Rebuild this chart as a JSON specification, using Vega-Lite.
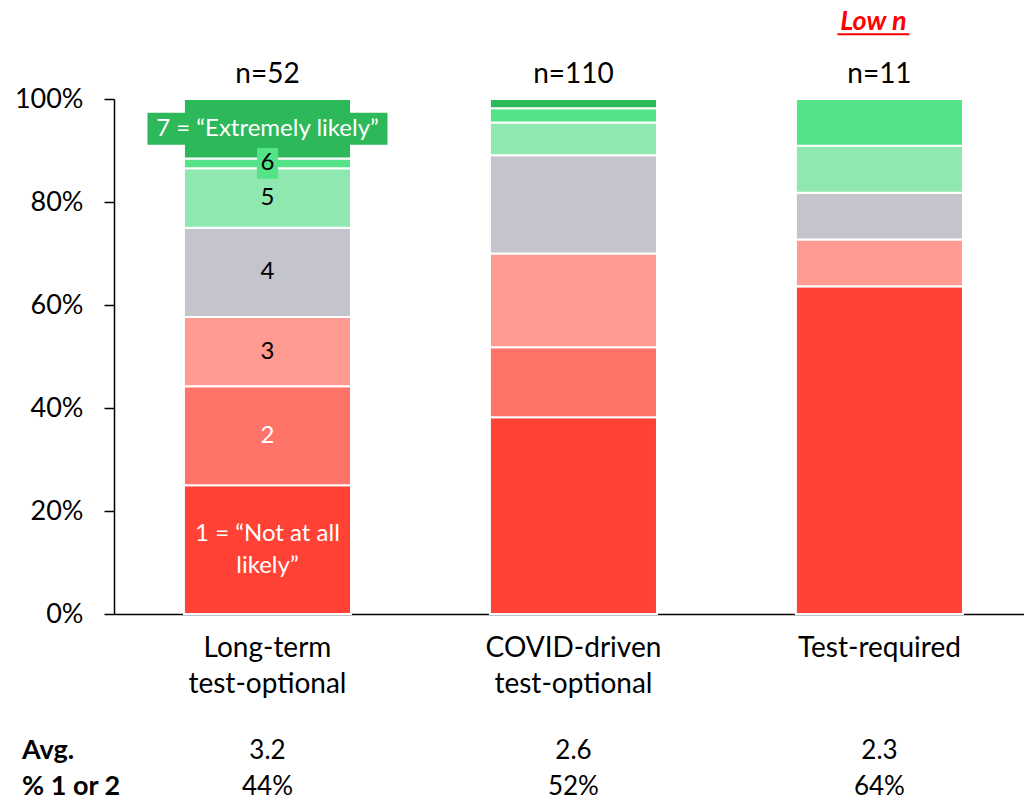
{
  "$schema": "https://vega.github.io/schema/vega-lite/v6.json",
  "width": 910,
  "height": 515,
  "autosize": {"type": "none"},
  "padding": {"left": 114, "top": 99, "right": 0, "bottom": 189},
  "background": "white",
  "config": {
    "view": {"stroke": null},
    "font": "Lato",
    "text": {"font": "Lato"}
  },
  "datasets": {
    "segments": [
      {"group": "Long-term|test-optional", "rating": 1, "pct": 0.25, "label": "1 = “Not at all\nlikely”"},
      {"group": "Long-term|test-optional", "rating": 2, "pct": 0.1923, "label": "2"},
      {"group": "Long-term|test-optional", "rating": 3, "pct": 0.1346, "label": "3"},
      {"group": "Long-term|test-optional", "rating": 4, "pct": 0.1731, "label": "4"},
      {"group": "Long-term|test-optional", "rating": 5, "pct": 0.1154, "label": "5"},
      {"group": "Long-term|test-optional", "rating": 6, "pct": 0.0192, "label": "6"},
      {"group": "Long-term|test-optional", "rating": 7, "pct": 0.1154, "label": "7 = “Extremely likely”"},
      {"group": "COVID-driven|test-optional", "rating": 1, "pct": 0.3818, "label": ""},
      {"group": "COVID-driven|test-optional", "rating": 2, "pct": 0.1364, "label": ""},
      {"group": "COVID-driven|test-optional", "rating": 3, "pct": 0.1818, "label": ""},
      {"group": "COVID-driven|test-optional", "rating": 4, "pct": 0.1909, "label": ""},
      {"group": "COVID-driven|test-optional", "rating": 5, "pct": 0.0636, "label": ""},
      {"group": "COVID-driven|test-optional", "rating": 6, "pct": 0.0273, "label": ""},
      {"group": "COVID-driven|test-optional", "rating": 7, "pct": 0.0182, "label": ""},
      {"group": "Test-required", "rating": 1, "pct": 0.6364, "label": ""},
      {"group": "Test-required", "rating": 2, "pct": 0.0, "label": ""},
      {"group": "Test-required", "rating": 3, "pct": 0.0909, "label": ""},
      {"group": "Test-required", "rating": 4, "pct": 0.0909, "label": ""},
      {"group": "Test-required", "rating": 5, "pct": 0.0909, "label": ""},
      {"group": "Test-required", "rating": 6, "pct": 0.0909, "label": ""},
      {"group": "Test-required", "rating": 7, "pct": 0.0, "label": ""}
    ],
    "groups": [
      {"group": "Long-term|test-optional", "n": "n=52", "avg": "3.2", "pct12": "44%", "note": ""},
      {"group": "COVID-driven|test-optional", "n": "n=110", "avg": "2.6", "pct12": "52%", "note": ""},
      {"group": "Test-required", "n": "n=11", "avg": "2.3", "pct12": "64%", "note": "Low n"}
    ],
    "rowlabels": [
      {"group": "Long-term|test-optional", "row": "Avg.", "pos": "avg"},
      {"group": "Long-term|test-optional", "row": "% 1 or 2", "pos": "pct"}
    ]
  },
  "encoding": {
    "x": {
      "field": "group",
      "type": "nominal",
      "sort": ["Long-term|test-optional", "COVID-driven|test-optional", "Test-required"],
      "scale": {"paddingInner": 0.454, "paddingOuter": 0.214, "align": 0.534},
      "axis": {
        "title": null,
        "labelAngle": 0,
        "ticks": false,
        "labelPadding": 20,
        "labelFontSize": 28,
        "labelLineHeight": 36,
        "labelColor": "black",
        "labelFont": "Lato",
        "domainColor": "black",
        "domainWidth": 1.5,
        "labelExpr": "split(datum.label, '|')"
      }
    }
  },
  "layer": [
    {
      "data": {"name": "segments"},
      "transform": [
        {"stack": "pct", "groupby": ["group"], "sort": [{"field": "rating", "order": "ascending"}], "as": ["y0", "y1"]}
      ],
      "mark": {"type": "bar", "stroke": "white", "strokeWidth": 2},
      "encoding": {
        "y": {
          "field": "y0",
          "type": "quantitative",
          "scale": {"domain": [0, 1], "nice": false},
          "axis": {
            "title": null,
            "values": [0, 0.2, 0.4, 0.6, 0.8, 1],
            "format": "%",
            "grid": false,
            "tickSize": 10,
            "tickColor": "black",
            "tickWidth": 1.5,
            "domainColor": "black",
            "domainWidth": 1.5,
            "labelFontSize": 27,
            "labelColor": "black",
            "labelFont": "Lato",
            "labelPadding": 21
          }
        },
        "y2": {"field": "y1"},
        "color": {
          "field": "rating",
          "type": "ordinal",
          "scale": {"domain": [1, 2, 3, 4, 5, 6, 7], "range": ["#FF4136", "#FF7369", "#FF9B91", "#C4C4CC", "#8EE8AF", "#55E388", "#2DB85A"]},
          "legend": null
        }
      }
    },
    {
      "data": {"name": "segments"},
      "transform": [
        {"stack": "pct", "groupby": ["group"], "sort": [{"field": "rating", "order": "ascending"}], "as": ["y0", "y1"]},
        {"filter": "datum.group == 'Long-term|test-optional' && datum.rating == 7"},
        {"calculate": "(datum.y0 + datum.y1) / 2 - 0.031", "as": "blo"},
        {"calculate": "(datum.y0 + datum.y1) / 2 + 0.031", "as": "bhi"}
      ],
      "mark": {"type": "bar", "width": 240, "color": "#2DB85A"},
      "encoding": {
        "y": {"field": "blo", "type": "quantitative"},
        "y2": {"field": "bhi"}
      }
    },
    {
      "data": {"name": "segments"},
      "transform": [
        {"stack": "pct", "groupby": ["group"], "sort": [{"field": "rating", "order": "ascending"}], "as": ["y0", "y1"]},
        {"filter": "datum.group == 'Long-term|test-optional' && datum.rating == 6"},
        {"calculate": "(datum.y0 + datum.y1) / 2 - 0.03", "as": "blo"},
        {"calculate": "(datum.y0 + datum.y1) / 2 + 0.03", "as": "bhi"}
      ],
      "mark": {"type": "bar", "width": 21, "color": "#55E388"},
      "encoding": {
        "y": {"field": "blo", "type": "quantitative"},
        "y2": {"field": "bhi"}
      }
    },
    {
      "data": {"name": "segments"},
      "transform": [
        {"stack": "pct", "groupby": ["group"], "sort": [{"field": "rating", "order": "ascending"}], "as": ["y0", "y1"]},
        {"filter": "datum.label != '' && datum.rating != 1"},
        {"calculate": "(datum.y0 + datum.y1) / 2", "as": "mid"}
      ],
      "mark": {"type": "text", "fontSize": 24, "baseline": "middle", "align": "center"},
      "encoding": {
        "y": {"field": "mid", "type": "quantitative"},
        "text": {"field": "label"},
        "color": {
          "condition": {"test": "datum.rating == 2 || datum.rating == 7", "value": "white"},
          "value": "black"
        }
      }
    },
    {
      "data": {"name": "segments"},
      "transform": [
        {"stack": "pct", "groupby": ["group"], "sort": [{"field": "rating", "order": "ascending"}], "as": ["y0", "y1"]},
        {"filter": "datum.label != '' && datum.rating == 1"},
        {"calculate": "(datum.y0 + datum.y1) / 2", "as": "mid"}
      ],
      "mark": {"type": "text", "fontSize": 24, "baseline": "middle", "align": "center", "lineBreak": "\n", "lineHeight": 32, "dy": -16, "color": "white"},
      "encoding": {
        "y": {"field": "mid", "type": "quantitative"},
        "text": {"field": "label"}
      }
    },
    {
      "data": {"name": "groups"},
      "mark": {"type": "text", "fontSize": 28, "baseline": "alphabetic", "align": "center", "color": "black"},
      "encoding": {
        "y": {"datum": 1.031, "type": "quantitative"},
        "text": {"field": "n"}
      }
    },
    {
      "data": {"name": "groups"},
      "transform": [{"filter": "datum.note != ''"}],
      "mark": {"type": "text", "fontSize": 27, "fontWeight": "bold", "fontStyle": "italic", "baseline": "alphabetic", "align": "center", "color": "#FF0000", "xOffset": -6},
      "encoding": {
        "y": {"datum": 1.134, "type": "quantitative"},
        "text": {"field": "note"}
      }
    },
    {
      "data": {"name": "groups"},
      "transform": [{"filter": "datum.note != ''"}],
      "mark": {"type": "tick", "size": 72, "thickness": 2, "color": "#FF0000", "xOffset": -6, "opacity": 1},
      "encoding": {
        "y": {"datum": 1.1256, "type": "quantitative"}
      }
    },
    {
      "data": {"name": "groups"},
      "mark": {"type": "text", "fontSize": 26, "baseline": "alphabetic", "align": "center", "color": "black"},
      "encoding": {
        "y": {"datum": -0.2816, "type": "quantitative"},
        "text": {"field": "avg"}
      }
    },
    {
      "data": {"name": "groups"},
      "mark": {"type": "text", "fontSize": 26, "baseline": "alphabetic", "align": "center", "color": "black"},
      "encoding": {
        "y": {"datum": -0.351, "type": "quantitative"},
        "text": {"field": "pct12"}
      }
    },
    {
      "data": {"name": "rowlabels"},
      "transform": [{"filter": "datum.pos == 'avg'"}],
      "mark": {"type": "text", "fontSize": 27, "fontWeight": "bold", "baseline": "alphabetic", "align": "left", "color": "black", "dx": -245.5},
      "encoding": {
        "y": {"datum": -0.2816, "type": "quantitative"},
        "text": {"field": "row"}
      }
    },
    {
      "data": {"name": "rowlabels"},
      "transform": [{"filter": "datum.pos == 'pct'"}],
      "mark": {"type": "text", "fontSize": 27, "fontWeight": "bold", "baseline": "alphabetic", "align": "left", "color": "black", "dx": -245.5},
      "encoding": {
        "y": {"datum": -0.351, "type": "quantitative"},
        "text": {"field": "row"}
      }
    }
  ]
}
